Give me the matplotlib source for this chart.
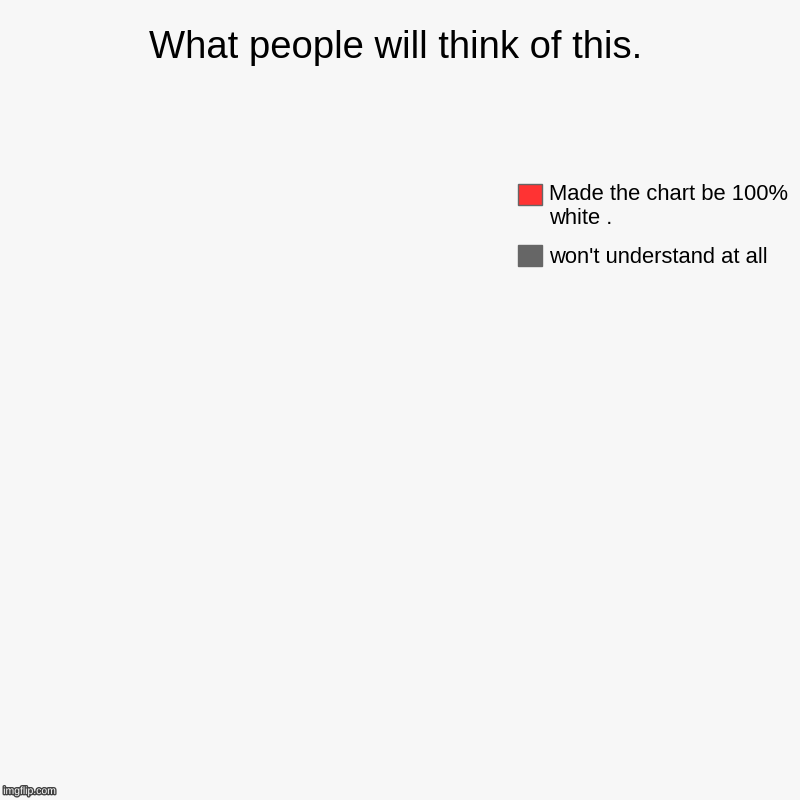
import matplotlib.pyplot as plt
import matplotlib.patheffects as pe
from matplotlib.patches import Rectangle
from matplotlib.legend_handler import HandlerPatch

plt.rcParams['font.family'] = ['Liberation Sans', 'DejaVu Sans']

title = 'What people will think of this.'
labels = ['Made the chart be 100%\nwhite .', "won't understand at all"]
values = [0, 0]
colors = ['#ff3333', '#666666']

fig = plt.figure(figsize=(8, 8), dpi=100, facecolor='#f7f7f7')
ax = fig.add_axes([0.05, 0.1, 0.55, 0.65])
ax.set_facecolor('#f7f7f7')

# every slice is zero, so nothing shows up in the pie
wedges, _ = ax.pie(values, colors=colors, normalize=False,
                   wedgeprops=dict(linewidth=0))
ax.set_aspect('equal')
ax.axis('off')


def top_box(shift):
    # keep the square level with the first line of a wrapped label
    def make(legend, orig_handle, xdescent, ydescent, width, height, fontsize):
        return Rectangle((-xdescent, -ydescent + shift), width, height)
    return HandlerPatch(patch_func=make)


leg = fig.legend(wedges, labels, loc='upper left',
                 bbox_to_anchor=(0.623, 0.795), frameon=False,
                 fontsize=15.8, handlelength=1.1, handleheight=1.1,
                 handletextpad=0.32, labelspacing=0.75,
                 handler_map={wedges[0]: top_box(9.0)})
for h in leg.legend_handles:
    h.set_linewidth(1)
    h.set_edgecolor('#666666')

fig.text(0.494, 0.94, title, ha='center', va='center', fontsize=27.5)

fig.text(0.004, 0.005, 'imgflip.com', fontsize=7.5, color='white',
         ha='left', va='bottom',
         path_effects=[pe.withStroke(linewidth=2, foreground='#444444')])

fig.savefig('out.png', dpi=100, facecolor=fig.get_facecolor())
